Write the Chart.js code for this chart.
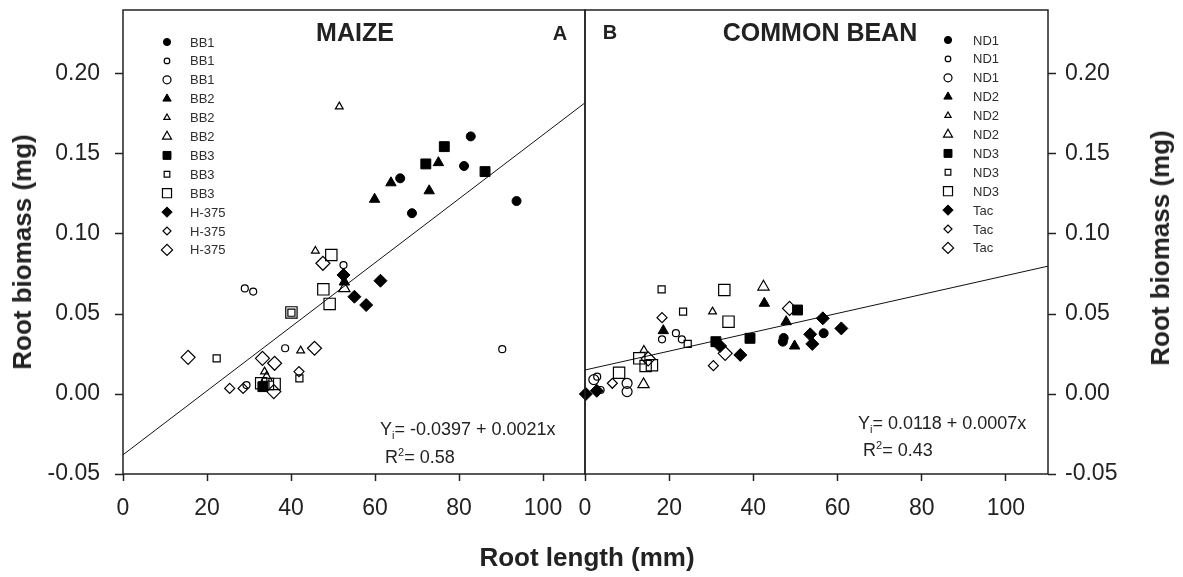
<!DOCTYPE html>
<html>
<head>
<meta charset="utf-8">
<script src="https://cdn.jsdelivr.net/npm/chart.js@4.4.1/dist/chart.umd.min.js"></script>
<style>
  html, body { margin: 0; padding: 0; background: #fff; }
  #wrap { position: relative; width: 1183px; height: 577px; overflow: hidden;
          font-family: "Liberation Sans", Arial, sans-serif; color: #222; }
  canvas { position: absolute; top: 0; }
  #cvA { left: 0; }
  #cvB { left: 560px; }
  .t { position: absolute; white-space: nowrap; line-height: 1; }
  .t sub { font-size: 11px; vertical-align: -4px; line-height: 0; }
  .t sup { font-size: 11px; vertical-align: 7px; line-height: 0; }
</style>
</head>
<body>
<div id="wrap">
  <canvas id="cvA" width="586" height="577"></canvas>
  <canvas id="cvB" width="623" height="577"></canvas>
</div>
<script>
const FONT = '"Liberation Sans", Arial, sans-serif'

// axes
const xTicks = [0, 20, 40, 60, 80, 100]
const yTicks = [-0.05, 0, 0.05, 0.10, 0.15, 0.20]

// regression lines: [intercept, slope] as drawn
const maizeFit = [-0.038, 0.0020]
const beanFit = [0.015, 0.00059]

// legend labels
const maizeLabels = ['BB1', 'BB1', 'BB1', 'BB2', 'BB2', 'BB2', 'BB3', 'BB3', 'BB3', 'H-375', 'H-375', 'H-375']
const beanLabels = ['ND1', 'ND1', 'ND1', 'ND2', 'ND2', 'ND2', 'ND3', 'ND3', 'ND3', 'Tac', 'Tac', 'Tac']

// MAIZE points [root length, root biomass]
const maizeBB1Filled = [[82.8, 0.161], [81.2, 0.1425], [66.0, 0.1348], [68.8, 0.113], [93.7, 0.1206]]
const maizeBB1Small = [[90.3, 0.028], [52.5, 0.0806], [29.0, 0.066], [31.0, 0.064], [38.6, 0.0286], [29.4, 0.0056]]
const maizeBB1Large = []
const maizeBB2Filled = [[75.1, 0.1446], [63.8, 0.132], [59.9, 0.1217], [72.9, 0.127], [52.7, 0.070]]
const maizeBB2Small = [[51.5, 0.1796], [45.8, 0.0894], [42.3, 0.0271], [33.7, 0.014]]
const maizeBB2Large = [[52.7, 0.066], [34.2, 0.010]]
const maizeBB3Filled = [[76.5, 0.1546], [72.1, 0.1438], [86.2, 0.139], [33.3, 0.0046]]
const maizeBB3Small = [[22.3, 0.0223], [42.0, 0.0098], [40.1, 0.0508]]
const maizeBB3Large = [[49.6, 0.0869], [47.7, 0.0654], [49.2, 0.0563], [32.9, 0.0067], [34.5, 0.0063], [36.1, 0.0063], [40.1, 0.051]]
const maizeH375Filled = [[61.3, 0.0708], [55.1, 0.0608], [57.9, 0.0556], [52.5, 0.0744]]
const maizeH375Small = [[25.4, 0.0035], [28.6, 0.0035], [41.9, 0.0140]]
const maizeH375Large = [[15.5, 0.0229], [47.6, 0.0817], [45.6, 0.0286], [33.2, 0.0223], [36.1, 0.0192], [35.9, 0.0015]]

// COMMON BEAN points
const beanND1Filled = [[47.0, 0.0327], [56.7, 0.038], [47.2, 0.035]]
const beanND1Small = [[18.3, 0.0342], [21.6, 0.038], [23.0, 0.0342], [3.7, 0.0025], [2.9, 0.0108]]
const beanND1Large = [[10.0, 0.0067], [10.0, 0.0015], [2.1, 0.009]]
const beanND2Filled = [[42.6, 0.0567], [47.8, 0.0452], [49.8, 0.030], [18.6, 0.0396]]
const beanND2Small = [[30.3, 0.0515], [14.0, 0.0275]]
const beanND2Large = [[42.4, 0.067], [13.9, 0.006]]
const beanND3Filled = [[50.5, 0.0525], [31.1, 0.0327], [39.2, 0.0348]]
const beanND3Small = [[18.2, 0.0654], [23.3, 0.0515], [24.4, 0.0313]]
const beanND3Large = [[33.1, 0.065], [34.1, 0.0452], [14.4, 0.0175], [15.9, 0.018], [8.1, 0.0133], [12.9, 0.0223]]
const beanTacFilled = [[56.5, 0.0473], [32.1, 0.030], [36.9, 0.0244], [53.5, 0.0373], [54.0, 0.0313], [60.9, 0.041], [2.8, 0.002], [0.2, 0.0]]
const beanTacSmall = [[18.3, 0.0477], [6.5, 0.0067], [30.5, 0.0177]]
const beanTacLarge = [[48.6, 0.0535], [33.3, 0.0254], [15.0, 0.022]]

const maizeSeries = [maizeBB1Filled, maizeBB1Small, maizeBB1Large, maizeBB2Filled, maizeBB2Small, maizeBB2Large,
  maizeBB3Filled, maizeBB3Small, maizeBB3Large, maizeH375Filled, maizeH375Small, maizeH375Large]
const beanSeries = [beanND1Filled, beanND1Small, beanND1Large, beanND2Filled, beanND2Small, beanND2Large,
  beanND3Filled, beanND3Small, beanND3Large, beanTacFilled, beanTacSmall, beanTacLarge]

// marker per legend row (same order in both panels)
const markers = [
  { style: 'circle', r: 4.5, filled: true }, { style: 'circle', r: 3.5 }, { style: 'circle', r: 5 },
  { style: 'triangle', r: 6, filled: true }, { style: 'triangle', r: 4.5 }, { style: 'triangle', r: 6.5 },
  { style: 'rect', r: 7, filled: true }, { style: 'rect', r: 5 }, { style: 'rect', r: 8 },
  { style: 'rectRot', r: 6.5, filled: true }, { style: 'rectRot', r: 5 }, { style: 'rectRot', r: 7 },
]

function buildDatasets(series, labels, fit) {
  const ds = series.map((pts, i) => ({
    label: labels[i],
    data: pts.map(([x, y]) => ({ x, y })),
    pointStyle: markers[i].style,
    pointRadius: markers[i].r,
    pointHoverRadius: markers[i].r,
    backgroundColor: markers[i].filled ? '#000' : 'rgba(0,0,0,0)',
    borderColor: '#000',
    borderWidth: markers[i].filled ? 1 : 1.2,
    clip: false,
    inLegend: true,
  }))
  ds.push({
    label: 'fit',
    data: [0, 110].map(x => ({ x, y: fit[0] + fit[1] * x })),
    showLine: true,
    pointRadius: 0,
    borderColor: '#111',
    borderWidth: 1,
    inLegend: false,
  })
  return ds
}

const boxPlugin = {
  id: 'box',
  afterDraw(chart) {
    const { ctx, chartArea: a } = chart
    ctx.save()
    ctx.strokeStyle = '#222'
    ctx.lineWidth = 1.5
    ctx.strokeRect(a.left, a.top, a.right - a.left, a.bottom - a.top)
    ctx.restore()
  }
}

const legendPlugin = {
  id: 'rowLegend',
  afterDraw(chart, args, opts) {
    const ctx = chart.ctx
    ctx.save()
    ctx.font = '13px ' + FONT
    ctx.textBaseline = 'middle'
    let row = 0
    chart.data.datasets.forEach(ds => {
      if (!ds.inLegend) return
      const y = opts.y + row * opts.dy
      ctx.fillStyle = ds.backgroundColor
      ctx.strokeStyle = ds.borderColor
      ctx.lineWidth = ds.borderWidth
      Chart.helpers.drawPoint(ctx, { pointStyle: ds.pointStyle, radius: ds.pointRadius * 0.8, rotation: 0, borderWidth: ds.borderWidth }, opts.x, y)
      ctx.fillStyle = '#2e2e2e'
      ctx.fillText(ds.label, opts.textX, y + 1)
      row++
    })
    ctx.restore()
  }
}

function noPad(s) {
  s.paddingTop = 0
  s.paddingBottom = 0
  s.paddingLeft = 0
  s.paddingRight = 0
}

function scaleOpts(side) {
  const tickFont = { size: 23, family: FONT }
  return {
    x: {
      type: 'linear', min: 0, max: 110,
      afterBuildTicks: s => { s.ticks = xTicks.map(v => ({ value: v })) },
      afterFit: s => { s.height = 103; noPad(s) },
      grid: { drawOnChartArea: false, tickLength: 7, tickColor: '#222', tickWidth: 1.5 },
      border: { display: false },
      ticks: { font: tickFont, color: '#222', padding: 14, maxRotation: 0, autoSkip: false, callback: v => String(v) },
    },
    y: {
      type: 'linear', position: side, min: -0.05, max: 0.24,
      afterBuildTicks: s => { s.ticks = yTicks.map(v => ({ value: v })) },
      afterFit: s => { s.width = side === 'left' ? 123 : 135; noPad(s) },
      grid: { drawOnChartArea: false, tickLength: 8, tickColor: '#222', tickWidth: 1.5 },
      border: { display: false },
      ticks: { font: tickFont, color: '#222', padding: side === 'left' ? 15 : 9, autoSkip: false, callback: v => v.toFixed(2) },
    },
  }
}

function makeChart(id, series, labels, fit, side, padding, legendPos) {
  return new Chart(document.getElementById(id), {
    type: 'scatter',
    data: { datasets: buildDatasets(series, labels, fit) },
    options: {
      responsive: false,
      animation: false,
      layout: { padding, autoPadding: false },
      scales: scaleOpts(side),
      plugins: {
        legend: { display: false },
        tooltip: { enabled: false },
        rowLegend: legendPos,
      },
    },
    plugins: [boxPlugin, legendPlugin],
  })
}

makeChart('cvA', maizeSeries, maizeLabels, maizeFit, 'left',
  { left: 0, right: 1, top: 10, bottom: 0 }, { x: 167, textX: 190, y: 42, dy: 18.9 })
makeChart('cvB', beanSeries, beanLabels, beanFit, 'right',
  { left: 25, right: 0, top: 10, bottom: 0 }, { x: 948 - 560, textX: 973 - 560, y: 40, dy: 18.9 })

// text placed on the figure
const wrap = document.getElementById('wrap')
function place(html, x, y, size, weight, align, rotate) {
  const d = document.createElement('div')
  d.className = 't'
  d.innerHTML = html
  d.style.fontSize = size + 'px'
  d.style.fontWeight = weight || 'normal'
  d.style.left = x + 'px'
  d.style.top = (y - 0.49 * size) + 'px'
  if (rotate) {
    d.style.top = y + 'px'
    d.style.transform = 'translate(-50%, -50%) rotate(-90deg)'
  } else if (align === 'center') {
    d.style.transform = 'translateX(-50%)'
  }
  wrap.appendChild(d)
}

place('MAIZE', 355, 32, 25, 'bold', 'center')
place('A', 560, 33, 20, 'bold', 'center')
place('B', 610, 32, 20, 'bold', 'center')
place('COMMON BEAN', 820, 32, 25, 'bold', 'center')
place('Y<sub>i</sub>= -0.0397 + 0.0021x', 380, 429, 18)
place('R<sup>2</sup>= 0.58', 385, 457, 18)
place('Y<sub>i</sub>= 0.0118 + 0.0007x', 858, 423, 18)
place('R<sup>2</sup>= 0.43', 863, 450, 18)
place('Root length (mm)', 587, 557, 26, 'bold', 'center')
place('Root biomass (mg)', 22, 252, 26, 'bold', null, true)
place('Root biomass (mg)', 1160, 248, 26, 'bold', null, true)
</script>
</body>
</html>
